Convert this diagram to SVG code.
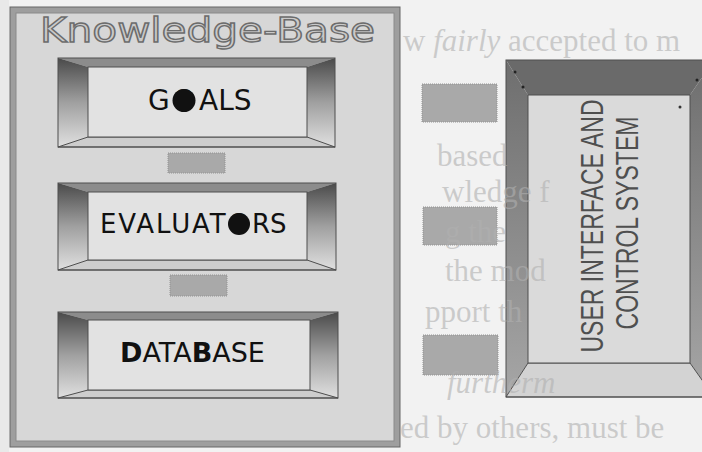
<svg xmlns="http://www.w3.org/2000/svg" width="702" height="452" viewBox="0 0 702 452">
  <defs>
    <style>
      .edge { stroke: #4e4e4e; stroke-width: 1; }
      .face { fill: #e2e2e2; stroke: #4e4e4e; stroke-width: 1; }
      .top { fill: #8c8c8c; }
      .bottom { fill: #cdcdcd; }
      .label { font-family: "DejaVu Sans", "Liberation Sans", sans-serif; fill: #111; }
      .link { fill: #a9a9a9; stroke: #929292; stroke-width: 1; stroke-dasharray: 1 1; }
      .side-text { font-family: "Liberation Sans", Arial, sans-serif; font-size: 32px; fill: #4f4f4f; }
      .page-text { font-family: "Liberation Serif", "Times New Roman", serif; font-size: 31px; fill: #b0b0b0; fill-opacity: 0.6; }
    </style>
    <linearGradient id="sideShade" x1="0" y1="0" x2="0" y2="1">
      <stop offset="0" stop-color="#4a4a4a"/>
      <stop offset="0.5" stop-color="#a0a0a0"/>
      <stop offset="1" stop-color="#e0e0e0"/>
    </linearGradient>
    <linearGradient id="panelSide" x1="0" y1="0" x2="0" y2="1">
      <stop offset="0" stop-color="#6e6e6e"/>
      <stop offset="1" stop-color="#a6a6a6"/>
    </linearGradient>
    <clipPath id="pageArea">
      <rect x="401" y="0" width="301" height="452"/>
    </clipPath>
  </defs>

  <!-- paper -->
  <rect x="0" y="0" width="702" height="452" fill="#f2f2f2"/>
  <rect x="0" y="0" width="9" height="452" fill="#e9e9e9"/>

  <!-- knowledge-base container -->
  <g id="knowledge-base">
    <rect x="10" y="7" width="390" height="440" fill="#9e9e9e" stroke="#666" stroke-width="1"/>
    <rect x="16" y="13" width="378" height="428" fill="#d7d7d7" stroke="#8a8a8a" stroke-width="1"/>
    <text x="40" y="42" font-family="DejaVu Sans, sans-serif" font-size="33" textLength="335" lengthAdjust="spacingAndGlyphs" fill="#cacaca" stroke="#6c6c6c" stroke-width="1.3">Knowledge-Base</text>
  </g>

  <!-- goals -->
  <g id="goals">
    <polygon class="top" points="58,58 335,58 307,67 88,67"/>
    <polygon points="58,58 88,67 88,137 58,147" fill="url(#sideShade)"/>
    <polygon points="335,58 335,147 307,137 307,67" fill="url(#sideShade)"/>
    <polygon class="bottom edge" points="58,147 88,137 307,137 335,147"/>
    <rect class="face" x="88" y="67" width="219" height="70"/>
    <rect x="58" y="58" width="277" height="89" fill="none" class="edge"/>
    <circle cx="184" cy="100.5" r="11.5" fill="#111"/>
    <text class="label" font-size="28" y="110"><tspan x="148">G</tspan><tspan x="173">O</tspan><tspan x="199">ALS</tspan></text>
  </g>

  <!-- evaluators -->
  <g id="evaluators">
    <polygon class="top" points="58,183 336,183 307,192 88,192"/>
    <polygon points="58,183 88,192 88,260 58,270" fill="url(#sideShade)"/>
    <polygon points="336,183 336,270 307,260 307,192" fill="url(#sideShade)"/>
    <polygon class="bottom edge" points="58,270 88,260 307,260 336,270"/>
    <rect class="face" x="88" y="192" width="219" height="68"/>
    <rect x="58" y="183" width="278" height="87" fill="none" class="edge"/>
    <circle cx="239" cy="224" r="11" fill="#111"/>
    <text class="label" font-size="26" y="233"><tspan x="100" letter-spacing="1.9">EVALUAT</tspan><tspan x="228.8">O</tspan><tspan x="252">RS</tspan></text>
  </g>

  <!-- database -->
  <g id="database">
    <polygon class="top" points="58,312 338,312 310,320 88,320"/>
    <polygon points="58,312 88,320 88,390 58,398" fill="url(#sideShade)"/>
    <polygon points="338,312 338,398 310,390 310,320" fill="url(#sideShade)"/>
    <polygon class="bottom edge" points="58,398 88,390 310,390 338,398"/>
    <rect class="face" x="88" y="320" width="222" height="70"/>
    <rect x="58" y="312" width="280" height="86" fill="none" class="edge"/>
    <text class="label" font-size="27" x="120" y="362"><tspan font-weight="bold">D</tspan>ATA<tspan font-weight="bold">B</tspan>ASE</text>
  </g>

  <!-- user interface and control system -->
  <g id="user-interface">
    <polygon points="506,60 714,60 690,95 528,95" fill="#6a6a6a"/>
    <polygon points="506,60 528,95 528,363 506,397" fill="url(#panelSide)"/>
    <polygon points="714,60 690,95 690,363 714,397" fill="url(#panelSide)"/>
    <polygon class="edge" points="506,397 528,363 690,363 714,397" fill="#d3d3d3"/>
    <rect x="528" y="95" width="162" height="268" fill="#dadada" stroke="#4e4e4e" stroke-width="1"/>
    <rect x="506" y="60" width="208" height="337" fill="none" class="edge"/>
    <circle cx="515" cy="72" r="1.5" fill="#222"/>
    <circle cx="523" cy="87" r="1.5" fill="#222"/>
    <circle cx="697" cy="80" r="1.5" fill="#222"/>
    <circle cx="680" cy="107" r="1.5" fill="#333"/>
    <text class="side-text" transform="translate(603,226) rotate(-90)" x="0" y="0" text-anchor="middle" textLength="253" lengthAdjust="spacingAndGlyphs">USER INTERFACE AND</text>
    <text class="side-text" transform="translate(638,223) rotate(-90)" x="0" y="0" text-anchor="middle" textLength="213" lengthAdjust="spacingAndGlyphs">CONTROL SYSTEM</text>
  </g>

  <!-- connectors -->
  <g id="connectors">
    <rect class="link" x="168" y="153" width="57" height="20"/>
    <rect class="link" x="170" y="275" width="57" height="21"/>
    <rect class="link" x="422" y="84" width="75" height="38"/>
    <rect class="link" x="423" y="207" width="74" height="38"/>
    <rect class="link" x="423" y="335" width="75" height="40"/>
  </g>

  <!-- printed page text showing through the paper -->
  <g clip-path="url(#pageArea)">
    <text x="403" y="51" class="page-text">w <tspan font-style="italic">fairly</tspan> accepted to m</text>
    <text x="437" y="166" class="page-text">based</text>
    <text x="442" y="202" class="page-text">wledge f</text>
    <text x="445" y="242" class="page-text">g the</text>
    <text x="445" y="281" class="page-text">the mod</text>
    <text x="425" y="322" class="page-text">pport th</text>
    <text x="447" y="393" class="page-text" font-style="italic">furtherm</text>
    <text x="400" y="438" class="page-text">ed by others, must be</text>
  </g>
</svg>
